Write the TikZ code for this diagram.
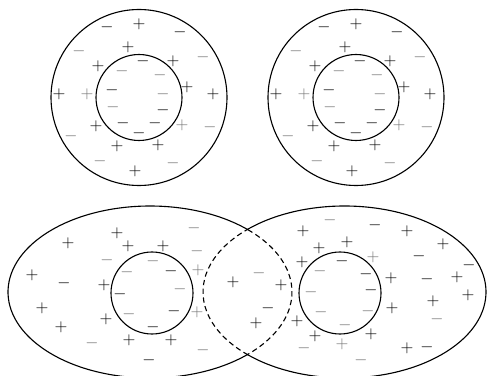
\documentclass[tikz,border=0pt]{standalone}
\usetikzlibrary{positioning}

\begin{document}
\begin{tikzpicture}[
        x=0.03cm, y=-0.03cm,
        sign/.style={inner sep=0pt, font=\Large},
        faint/.style={sign, text=black!55},
        ring/.style={line width=0.95pt},
        lens/.style={line width=0.95pt, dash pattern=on 4.5pt off 3pt},
        cell/.pic={
            % boundaries
            \draw[ring] (0,0) circle[radius=88];
            \draw[ring] (0,0) circle[radius=43];
            % outer charges
            \foreach \p [count=\i] in {(0,-73),(-11,-50),(-41,-31),(34,-36),(-80,-3),(48,-10),(74,-3),(-43,29),(-22,49),(19,48),(-4,74)}
                \node[sign] (p\i) at \p {$+$};
            \foreach \p [count=\i] in {(-52,-3),(43,28)}
                \node[faint] (q\i) at \p {$+$};
            \foreach \p [count=\i] in {(-32,-70),(41,-65)}
                \node[sign] (m\i) at \p {$-$};
            \foreach \p [count=\i] in {(-60,-46),(64,-40),(-68,39),(71,30),(-39,64),(34,66)}
                \node[faint] (n\i) at \p {$-$};
            % inner charges
            \foreach \p [count=\i] in {(4,-36),(-27,-7),(24,13),(-16,26),(16,26),(0,36)}
                \node[sign] (im\i) at \p {$-$};
            \foreach \p [count=\i] in {(-17,-26),(21,-22),(24,-3),(-26,10)}
                \node[faint] (in\i) at \p {$-$};
        },
    ]
    \useasboundingbox (0,0) rectangle (487,376);

    % Isolated cells
    \pic (left) at (139,97.5) {cell};
    \pic (right) at (356,97.5) {cell};

    % Overlapping cells
    \coordinate (lc) at (150,292);
    \coordinate (rc) at (344.5,292);
    \draw[ring] ([shift={(46.4:142 and 86)}]lc) arc[start angle=46.4, end angle=313.6, x radius=142, y radius=86];
    \draw[lens] ([shift={(-46.4:142 and 86)}]lc) arc[start angle=-46.4, end angle=46.4, x radius=142, y radius=86];
    \draw[ring] ([shift={(-133:141.5 and 86)}]rc) arc[start angle=-133, end angle=133, x radius=141.5, y radius=86];
    \draw[lens] ([shift={(133:141.5 and 86)}]rc) arc[start angle=133, end angle=227, x radius=141.5, y radius=86];
    \draw[ring] (152,293) circle[radius=41];
    \draw[ring] (340,293) circle[radius=41];

    % Charges, bottom
    \foreach \p [count=\i] in {(117,233),(68,243),(128,246),(163,246),(32,275),(104,285),(42,308),(106,319),(61,327),(129,340),(171,340),
                               (233,282),(281,285),(256,323),
                               (303,231),(407,231),(443,244),(319,248),(347,242),(302,262),(391,278),(457,277),(468,295),(433,301),(392,308),(297,321),(315,336),(371,334),(407,348)}
        \node[sign] (bp\i) at \p {$+$};
    \foreach \p [count=\i] in {(198,270),(197,312),(373,257),(342,344)}
        \node[faint] (bq\i) at \p {$+$};
    \foreach \p [count=\i] in {(64,283),(149,360),(171,271),(120,294),(174,311),(153,327),
                               (268,308),
                               (375,225),(419,256),(469,265),(427,279),(427,347),(342,261),(366,274),(371,290)}
        \node[sign] (bm\i) at \p {$-$};
    \foreach \p [count=\i] in {(194,228),(107,260),(197,251),(203,350),(92,343),(153,261),(127,272),(180,289),(129,314),
                               (259,273),
                               (330,220),(437,319),(304,348),(361,360),(320,271),(311,292),(321,312),(368,311),(345,325)}
        \node[faint] (bn\i) at \p {$-$};
\end{tikzpicture}
\end{document}
